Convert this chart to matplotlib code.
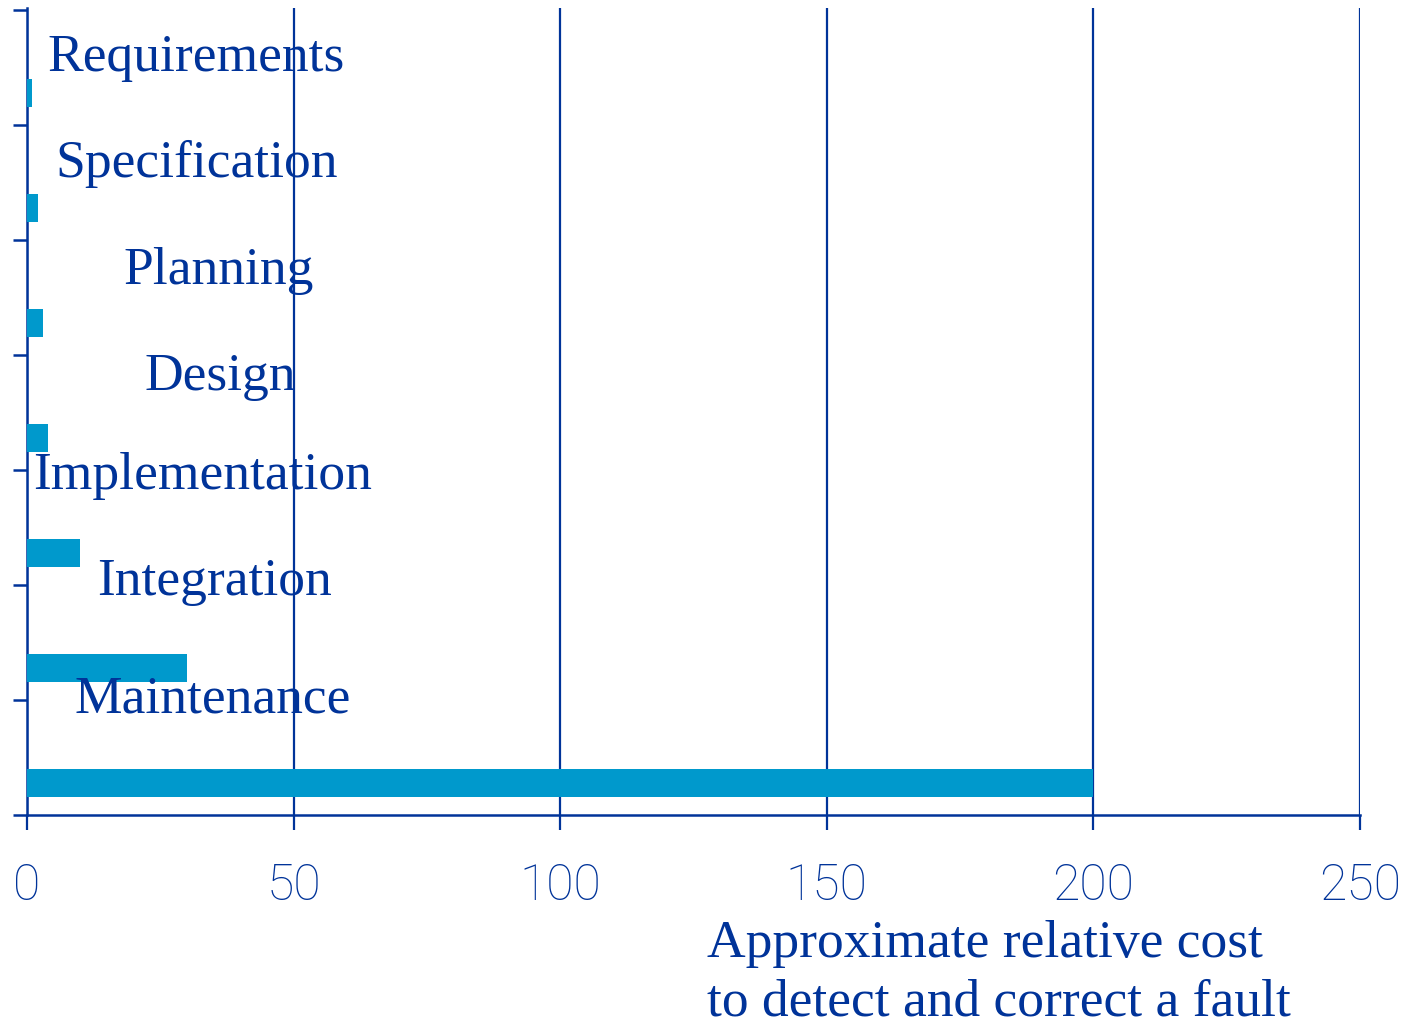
import matplotlib
matplotlib.use("Agg")
import matplotlib.pyplot as plt
import numpy as np

# phases of the life cycle, top to bottom, and their relative cost
phases = ["Requirements", "Specification", "Planning", "Design",
          "Implementation", "Integration", "Maintenance"]
cost = [1, 2, 3, 4, 10, 30, 200]
xticks = [0, 50, 100, 150, 200, 250]

# where each phase name sits (data x, offset above the tick below the bar)
label_x = [3.9, 5.3, 18.0, 22.1, 1.1, 13.1, 9.0]
label_dy = [0.47, 0.55, 0.62, 0.70, 0.84, 0.91, 0.89]

dark = "#003399"
barcol = "#0099cc"

fig = plt.figure(figsize=(14.03, 10.24), dpi=100)
ax = fig.add_axes([27/1403, 209/1024, 1333/1403, 807/1024])

n = len(phases)
ypos = np.arange(n)[::-1]  # top phase highest
ax.barh(ypos + 0.28, cost, height=0.24, color=barcol, zorder=3)

for i in range(n):
    ax.text(label_x[i], ypos[i] + label_dy[i], phases[i], fontsize=38.5,
            family="Liberation Serif", color=dark, va="baseline", ha="left", zorder=4)

ax.set_xlim(0, 250)
ax.set_ylim(0, 7.02)
ax.set_xticks(xticks)
ax.set_yticks(np.arange(0, 8))
ax.set_yticklabels([])
ax.grid(axis="x", color=dark, linewidth=1.6, zorder=1)

for s in ["top", "right"]:
    ax.spines[s].set_visible(False)
for s in ["left", "bottom"]:
    ax.spines[s].set_color(dark)
    ax.spines[s].set_linewidth(1.8)

ax.tick_params(axis="x", length=11, width=1.6, color=dark, pad=23,
               labelsize=36, labelcolor=dark)
ax.tick_params(axis="y", length=10, width=1.8, color=dark)
for lab in ax.get_xticklabels():
    lab.set_family("Roboto")
    lab.set_fontweight("light")

fig.text(707/1403, 1 - 957/1024, "Approximate relative cost", fontsize=38.5,
         family="Liberation Serif", color=dark, va="baseline", ha="left")
fig.text(707/1403, 1 - 1015/1024, "to detect and correct a fault", fontsize=38.5,
         family="Liberation Serif", color=dark, va="baseline", ha="left")

fig.savefig("out.png", dpi=100)
